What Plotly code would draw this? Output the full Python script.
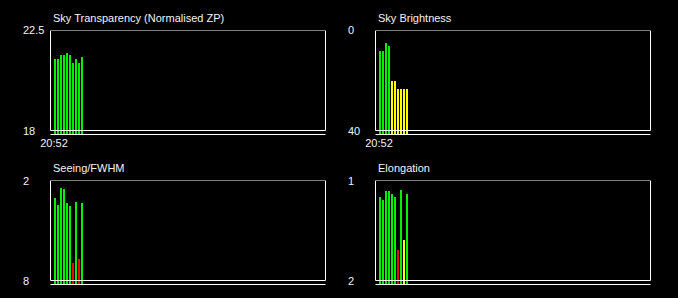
import plotly.graph_objects as go

# ---------------- data ----------------
frames = list(range(10))
time_tick_vals = [0]
time_tick_labels = ["20:52"]

transparency = [21.26, 21.26, 21.44, 21.44, 21.53, 21.44, 21.08, 21.26, 21.08, 21.31]
transparency_flags = ["g", "g", "g", "g", "g", "g", "g", "g", "g", "g"]
transparency_ticks = ["22.5", "18"]

brightness = [7.8, 7.8, 4.6, 5.8, 19.8, 19.8, 23.0, 23.0, 23.0, 23.0]
brightness_flags = ["g", "g", "g", "g", "y", "y", "y", "y", "y", "y"]
brightness_ticks = ["0", "40"]

seeing = [2.99, 3.41, 2.39, 2.45, 3.29, 3.47, 6.89, 3.23, 6.65, 3.29]
seeing_flags = ["g", "g", "g", "g", "g", "g", "r", "g", "r", "g"]
seeing_ticks = ["2", "8"]

elongation = [1.155, 1.185, 1.095, 1.095, 1.125, 1.155, 1.685, 1.085, 1.585, 1.125]
elongation_flags = ["g", "g", "g", "g", "g", "g", "r", "g", "y", "g"]
elongation_ticks = ["1", "2"]

# ---------------- styling / layout ----------------
W, H = 678, 298
FONT = "Liberation Sans, Arial, sans-serif"
COLORS = {"g": "#00f200", "y": "#ffff00", "r": "#ff0000"}
TEXT = "#f4f4f4"

panels = [
    dict(title="Sky Transparency (Normalised ZP)", vals=transparency, flags=transparency_flags,
         ticks=transparency_ticks, col=0, row=0, xtick=True),
    dict(title="Sky Brightness", vals=brightness, flags=brightness_flags,
         ticks=brightness_ticks, col=1, row=0, xtick=True),
    dict(title="Seeing/FWHM", vals=seeing, flags=seeing_flags,
         ticks=seeing_ticks, col=0, row=1, xtick=False),
    dict(title="Elongation", vals=elongation, flags=elongation_flags,
         ticks=elongation_ticks, col=1, row=1, xtick=False),
]

col_px = [(50.5, 325.5), (375.5, 650.5)]          # box left/right line centres
row_px = [(30.5, 130.5, 135.0), (180.5, 280.5, 285.0)]  # box top, box bottom, bar floor
bar_offset_px = 3.5   # first bar centre from box left edge
slot_px = 3.0

fig = go.Figure()
shapes = []
annotations = []

for i, p in enumerate(panels):
    n = i + 1
    xa = "x" if n == 1 else f"x{n}"
    ya = "y" if n == 1 else f"y{n}"
    xl, xr = col_px[p["col"]]
    yt, yb, yf = row_px[p["row"]]

    top_val = float(p["ticks"][0])
    bot_val = float(p["ticks"][1])
    per_px = (bot_val - top_val) / (yb - yt)
    floor_val = bot_val + per_px * (yf - yb)

    x0 = -bar_offset_px / slot_px
    x1 = x0 + (xr - xl) / slot_px

    fig.add_trace(go.Bar(
        x=frames,
        y=[v - floor_val for v in p["vals"]],
        base=floor_val,
        marker=dict(color=[COLORS[f] for f in p["flags"]], line=dict(width=0)),
        width=2 / 3,
        xaxis=xa, yaxis=ya,
        showlegend=False, hoverinfo="skip",
    ))

    xkey = "xaxis" if n == 1 else f"xaxis{n}"
    ykey = "yaxis" if n == 1 else f"yaxis{n}"
    fig.update_layout(**{
        xkey: dict(domain=[xl / W, xr / W], range=[x0, x1], anchor=ya,
                   automargin=False,
                   showgrid=False, zeroline=False, showline=False, ticks="",
                   tickvals=time_tick_vals if p["xtick"] else [],
                   ticktext=time_tick_labels if p["xtick"] else [],
                   showticklabels=p["xtick"],
                   tickfont=dict(family=FONT, size=11, color=TEXT)),
        ykey: dict(domain=[1 - yf / H, 1 - yt / H], range=[floor_val, top_val], anchor=xa,
                   automargin=False,
                   showgrid=False, zeroline=False, showline=False, ticks="",
                   showticklabels=False),
    })

    # frame box and floor line
    shapes.append(dict(type="rect", xref=f"{xa} domain", yref=ya, x0=0, x1=1,
                       y0=bot_val, y1=top_val, line=dict(color="white", width=1),
                       fillcolor="rgba(0,0,0,0)", layer="above"))
    fl = 0.5 / (yf - yt)
    shapes.append(dict(type="line", xref=f"{xa} domain", yref=f"{ya} domain",
                       x0=0, x1=1, y0=fl, y1=fl, line=dict(color="white", width=1),
                       layer="above"))

    # title
    annotations.append(dict(text=p["title"], xref="paper", yref="paper",
                            x=(xl + 0.5) / W, y=1 - (yt - 13) / H,
                            xanchor="left", yanchor="middle", showarrow=False,
                            font=dict(family=FONT, size=11, color=TEXT)))
    # y tick labels (left aligned)
    for lab, val in zip(p["ticks"], [top_val, bot_val]):
        annotations.append(dict(text=lab, xref="paper", yref=ya,
                                x=(xl - 29.5) / W, y=val,
                                xanchor="left", yanchor="middle", showarrow=False,
                                font=dict(family=FONT, size=11, color=TEXT)))

fig.update_layout(
    template="none",
    width=W, height=H,
    margin=dict(l=0, r=0, t=0, b=0, pad=0),
    paper_bgcolor="black", plot_bgcolor="black",
    bargap=0,
    shapes=shapes, annotations=annotations,
)

fig.write_html("out.html")
